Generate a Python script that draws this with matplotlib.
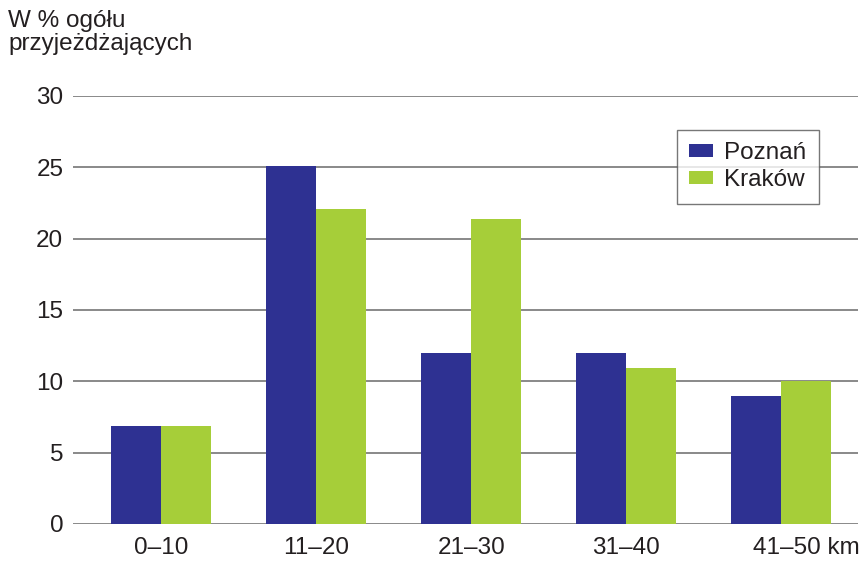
import matplotlib
matplotlib.use("Agg")
import matplotlib.pyplot as plt
import matplotlib.transforms as mtransforms
import numpy as np

plt.rcParams['font.family'] = ['Liberation Sans', 'DejaVu Sans']

categories = ["0–10", "11–20", "21–30", "31–40", "41–50 km"]
poznan = [6.9, 25.1, 12.0, 12.0, 9.0]
krakow = [6.9, 22.1, 21.4, 10.9, 10.0]
yticks = [0, 5, 10, 15, 20, 25, 30]

c_poz = "#2e3192"
c_kra = "#a6ce39"
grid_c = "#808080"
fs = 17.5

fig = plt.figure(figsize=(8.6, 5.64), dpi=100)
ax = fig.add_axes([73/860, 1-524/564, (858-73)/860, (524-96)/564])

x = np.arange(len(categories))
w = 0.323
ax.bar(x - w/2, poznan, width=w, color=c_poz, label="Poznań", zorder=3)
ax.bar(x + w/2, krakow, width=w, color=c_kra, label="Kraków", zorder=3)

ax.set_xlim(-0.571, 4.497)
ax.set_ylim(0, 30)
ax.set_yticks(yticks)
ax.set_yticklabels([str(t) for t in yticks])
for t in yticks:
    ax.axhline(t, color=grid_c, lw=1.3, zorder=1)

for s in ax.spines.values():
    s.set_visible(False)
ax.tick_params(axis='both', length=0, labelsize=fs, colors="#231f20")
ax.tick_params(axis='y', pad=7)
ax.tick_params(axis='x', pad=9)
ax.set_xticks(x)
ax.set_xticklabels(categories)
lbls = ax.get_xticklabels()
last = lbls[-1]
last.set_transform(last.get_transform() + mtransforms.ScaledTranslation(25/100, 0, fig.dpi_scale_trans))

fig.text(8/860, 1-10/564, "W % ogółu\nprzyjeżdżających", ha='left', va='top',
         fontsize=fs, color="#231f20", linespacing=1.05)

leg = ax.legend(loc='upper left', bbox_to_anchor=((677-73)/785, (524-130)/428),
                fontsize=fs, frameon=True, fancybox=False, edgecolor="#555555",
                handlelength=1.0, handleheight=0.45, handletextpad=0.45,
                borderpad=0.5, labelspacing=0.22, borderaxespad=0)
leg.get_frame().set_linewidth(1.0)
for t in leg.get_texts():
    t.set_color("#231f20")

fig.savefig("out.png", dpi=100)
